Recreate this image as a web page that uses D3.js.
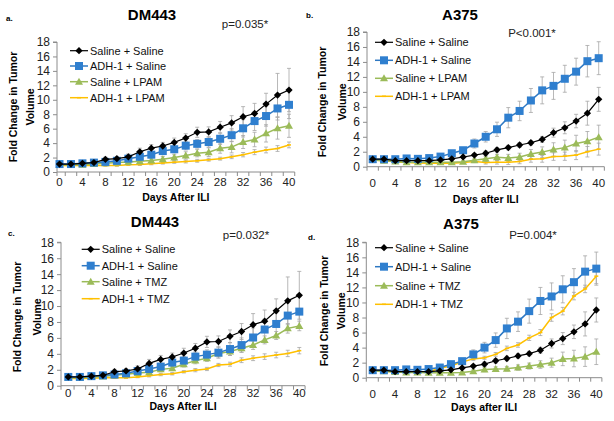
<!DOCTYPE html>
<html><head><meta charset="utf-8">
<script src="https://cdn.jsdelivr.net/npm/d3@7/dist/d3.min.js"></script>
<style>
body{margin:0;background:#fff;}
svg{display:block;font-family:"Liberation Sans",Arial,sans-serif;}
</style></head>
<body><svg id="c" width="614" height="421"></svg>
<script>
// ---------- DATA ----------
const days = [0,2,4,6,8,10,12,14,16,18,20,22,24,26,28,30,32,34,36,38,40];
const yTicks = [0,2,4,6,8,10,12,14,16,18];
const xTickLabels = [0,4,8,12,16,20,24,28,32,36,40];

// DM443
const dmSaline    = [1.1,1.1,1.2,1.3,1.75,1.85,2.1,2.8,3.3,3.6,4.1,4.7,5.5,5.55,6.2,6.8,7.65,8.1,9.4,10.65,11.35];
const dmSalineErr = [0.1,0.1,0.15,0.2,0.3,0.3,0.4,0.5,0.5,0.5,0.6,0.6,0.7,0.7,0.8,1.0,1.4,1.4,1.5,3.0,3.0];
const dmAdh       = [1.1,1.1,1.2,1.3,1.4,1.55,1.85,2.1,2.4,2.9,3.15,3.65,3.9,4.15,4.6,5.1,6.05,7.05,7.75,8.8,9.3];
const dmAdhErr    = [0.1,0.1,0.15,0.15,0.2,0.2,0.3,0.4,0.4,0.5,0.5,0.6,0.6,0.7,0.8,0.9,1.2,1.3,1.4,1.6,1.9];
const dmLpam      = [1.0,1.0,1.0,1.1,1.2,1.3,1.4,1.5,1.6,1.75,2.0,2.3,2.6,2.75,3.3,3.45,4.15,4.5,5.35,6.05,6.4];
const dmLpamErr   = [0.1,0.1,0.1,0.1,0.1,0.1,0.2,0.3,0.3,0.4,0.4,0.5,0.5,0.6,0.7,0.8,0.9,1.0,1.2,1.5,1.6];
const dmAdhLpam   = [0.9,0.9,0.9,0.9,0.9,0.9,1.0,1.05,1.15,1.25,1.35,1.45,1.55,1.7,1.85,2.1,2.4,2.75,3.05,3.25,3.75];
const dmAdhLpamErr= [0.1,0.1,0.1,0.1,0.1,0.1,0.1,0.15,0.15,0.15,0.15,0.2,0.2,0.2,0.2,0.25,0.3,0.35,0.4,0.4,0.4];
const dmTmz       = [1.0,1.0,1.1,1.15,1.3,1.45,1.6,1.7,2.05,2.2,2.7,3.15,3.45,4.05,4.3,4.7,5.1,5.75,6.3,7.2,7.5];
const dmTmzErr    = [0.1,0.1,0.1,0.1,0.15,0.15,0.2,0.25,0.3,0.3,0.35,0.4,0.4,0.45,0.5,0.5,0.55,0.5,0.5,0.6,0.6];
const dmAdhTmz    = [0.9,0.9,0.95,1.0,1.0,1.0,1.1,1.25,1.4,1.5,1.75,1.95,2.1,2.6,2.7,3.2,3.45,3.65,3.85,4.05,4.4];
const dmAdhTmzErr = [0.1,0.1,0.1,0.1,0.1,0.1,0.1,0.15,0.15,0.15,0.15,0.2,0.2,0.2,0.25,0.3,0.3,0.35,0.35,0.4,0.4];

// A375
const aSaline     = [1.0,1.0,0.8,0.8,0.8,0.8,0.9,1.05,1.3,1.55,1.8,2.25,2.55,2.9,3.2,3.65,4.55,5.2,6.1,7.15,9.0];
const aSalineErr  = [0.1,0.1,0.1,0.1,0.1,0.1,0.1,0.15,0.2,0.2,0.3,0.3,0.3,0.3,0.3,0.4,0.6,0.8,0.9,1.6,1.6];
const aAdh        = [1.0,1.0,1.0,1.1,1.05,1.15,1.35,1.8,2.2,3.1,4.0,5.0,6.55,7.45,8.85,10.2,10.8,11.75,12.7,14.1,14.5];
const aAdhErr     = [0.1,0.1,0.1,0.1,0.1,0.1,0.15,0.2,0.3,0.6,0.7,0.95,1.35,1.3,1.6,1.8,1.8,1.8,1.8,2.1,2.2];
const aLpam       = [0.9,0.8,0.7,0.6,0.6,0.6,0.6,0.6,0.65,0.85,1.05,1.25,1.15,1.3,1.7,1.95,2.3,2.55,3.1,3.4,3.95];
const aLpamErr    = [0.1,0.1,0.1,0.1,0.1,0.1,0.1,0.1,0.15,0.2,0.3,0.4,0.5,0.5,0.6,0.7,0.9,1.0,1.1,1.3,1.6];
const aAdhLpam    = [0.9,0.8,0.65,0.55,0.5,0.45,0.45,0.45,0.55,0.7,0.55,0.6,0.6,0.7,1.0,1.05,1.35,1.4,1.55,2.0,2.35];
const aAdhLpamErr = [0.1,0.1,0.1,0.1,0.1,0.1,0.1,0.1,0.1,0.15,0.2,0.25,0.3,0.3,0.4,0.45,0.5,0.55,0.6,0.7,0.8];
const aTmz        = [0.9,0.85,0.75,0.7,0.7,0.65,0.65,0.65,0.7,0.85,1.1,1.15,1.2,1.35,1.55,1.75,2.0,2.5,2.55,2.8,3.45];
const aTmzErr     = [0.1,0.1,0.1,0.1,0.1,0.1,0.1,0.1,0.15,0.2,0.3,0.3,0.3,0.35,0.4,0.5,0.6,0.9,1.1,1.3,1.7];
const aAdhTmz     = [0.95,0.85,0.75,0.75,0.7,0.8,1.25,1.55,2.1,2.5,2.65,3.1,3.9,4.35,5.3,6.0,8.0,8.85,10.85,11.8,13.5];
const aAdhTmzErr  = [0.1,0.1,0.1,0.1,0.1,0.1,0.15,0.15,0.2,0.2,0.2,0.25,0.3,0.3,0.35,0.4,0.5,0.5,0.5,0.5,1.0];

const seriesNamesLpam = ["Saline + Saline","ADH-1 + Saline","Saline + LPAM","ADH-1 + LPAM"];
const seriesNamesTmz  = ["Saline + Saline","ADH-1 + Saline","Saline + TMZ","ADH-1 + TMZ"];
const panelTitles = ["DM443","A375","DM443","A375"];
const panelTags = ["a.","b.","c.","d."];
const pValues = ["p=0.035*","P<0.001*","p=0.032*","P=0.004*"];
const xTitles = ["Days After ILI","Days after ILI","Days After ILI","Days after ILI"];
const yTitleLines = ["Fold Change in Tumor","Volume"];

// ---------- STYLES / LAYOUT ----------
const styles = [
  {color:"#000000", marker:"diamond", mfill:"#000000", lw:1.2},
  {color:"#2e78c2", marker:"square",  mfill:"#2f7fcf", lw:1.5},
  {color:"#9bbb59", marker:"triangle",mfill:"#9bbb59", lw:1.5},
  {color:"#ffc000", marker:"dash",    mfill:"#ffc000", lw:1.5}
];
const panels = [
  {series:[dmSaline,dmAdh,dmLpam,dmAdhLpam], errs:[dmSalineErr,dmAdhErr,dmLpamErr,dmAdhLpamErr], names:seriesNamesLpam,
   ax:57, x0:59.5, x40:289, yb:172, yt:42, xlabY:182, xtitleY:197, titleX:152, titleY:15, tagX:6, tagY:18,
   pX:245, pY:24, legX:70, legY:[50.7,66,81.7,97.7], ytX:[13,30], ytY:107},
  {series:[aSaline,aAdh,aLpam,aAdhLpam], errs:[aSalineErr,aAdhErr,aLpamErr,aAdhLpamErr], names:seriesNamesLpam,
   ax:367, x0:372.7, x40:598.7, yb:166.7, yt:32, xlabY:183, xtitleY:199, titleX:460, titleY:15, tagX:306, tagY:15,
   pX:532, pY:33, legX:375, legY:[42.3,60.3,78.3,96.3], ytX:[322,342], ytY:102},
  {series:[dmSaline,dmAdh,dmTmz,dmAdhTmz], errs:[dmSalineErr,dmAdhErr,dmTmzErr,dmAdhTmzErr], names:seriesNamesTmz,
   ax:61, x0:68.3, x40:299.3, yb:385.7, yt:242.3, xlabY:393, xtitleY:406, titleX:155, titleY:221.7, tagX:8, tagY:233,
   pX:246, pY:235, legX:81.7, legY:[249.3,265.7,281.7,298.7], ytX:[17,37], ytY:317},
  {series:[aSaline,aAdh,aTmz,aAdhTmz], errs:[aSalineErr,aAdhErr,aTmzErr,aAdhTmzErr], names:seriesNamesTmz,
   ax:366.3, x0:372.7, x40:596.3, yb:377.7, yt:242.3, xlabY:393.5, xtitleY:407, titleX:461, titleY:224, tagX:308, tagY:237,
   pX:533, pY:235, legX:375, legY:[247.7,266.7,285.7,304.3], ytX:[324,341], ytY:311}
];

const svg = d3.select("#c");
const axisColor = "#8c8c8c";

function drawMarker(g, type, x, y, st){
  if(type==="diamond"){
    g.append("path").attr("d",d3.symbol(d3.symbolDiamond2 || d3.symbolDiamond,34)()).attr("transform",`translate(${x},${y})`)
     .attr("fill",st.mfill);
  } else if(type==="square"){
    g.append("rect").attr("x",x-4).attr("y",y-4).attr("width",8).attr("height",8).attr("fill",st.mfill);
  } else if(type==="triangle"){
    g.append("path").attr("d",`M${x},${y-4}L${x+4},${y+3}L${x-4},${y+3}Z`).attr("fill",st.mfill);
  } else {
    g.append("line").attr("x1",x-2).attr("x2",x+2).attr("y1",y).attr("y2",y).attr("stroke",st.mfill).attr("stroke-width",1.5);
  }
}

panels.forEach((p,pi)=>{
  const g = svg.append("g");
  const x = d3.scaleLinear().domain([0,40]).range([p.x0,p.x40]);
  const y = d3.scaleLinear().domain([0,18]).range([p.yb,p.yt]);
  const step = x(2)-x(0);
  const xEnd = x(40) + step/2;

  // y axis
  const yAxis = d3.axisLeft(y).tickValues(yTicks).tickSize(4).tickPadding(3).tickFormat(d3.format("d"));
  const ya = g.append("g").attr("transform",`translate(${p.ax},0)`).call(yAxis);
  ya.select(".domain").attr("stroke",axisColor).attr("d",`M-4,${y(18)}H0V${y(0)}`);
  ya.selectAll(".tick line").attr("stroke",axisColor);
  ya.selectAll(".tick text").attr("fill","#222").style("font-size","12px").style("font-family","Liberation Sans, Arial");

  // x axis line + ticks
  g.append("line").attr("x1",p.ax).attr("x2",xEnd).attr("y1",y(0)).attr("y2",y(0)).attr("stroke",axisColor);
  days.forEach(d=>{
    const tx = (d===0) ? p.ax : x(d)-step/2;
    g.append("line").attr("x1",tx).attr("x2",tx).attr("y1",y(0)).attr("y2",y(0)+4).attr("stroke",axisColor);
  });
  g.append("line").attr("x1",xEnd).attr("x2",xEnd).attr("y1",y(0)).attr("y2",y(0)+4).attr("stroke",axisColor);
  g.selectAll(".xl").data(xTickLabels).enter().append("text")
    .attr("x",d=>x(d)).attr("y",p.xlabY).attr("dy","0.35em").attr("text-anchor","middle")
    .style("font-size","11.5px").attr("fill","#222").text(d=>d);

  // titles
  g.append("text").attr("x",p.titleX).attr("y",p.titleY).attr("dy","0.35em").attr("text-anchor","middle")
    .style("font-size","15px").style("font-weight","bold").text(panelTitles[pi]);
  g.append("text").attr("x",p.tagX).attr("y",p.tagY).attr("dy","0.35em")
    .style("font-size","8px").style("font-weight","bold").text(panelTags[pi]);
  g.append("text").attr("x",p.pX).attr("y",p.pY).attr("dy","0.35em").attr("text-anchor","middle")
    .style("font-size","11.5px").attr("fill","#222").text(pValues[pi]);
  g.append("text").attr("x",(p.ax+xEnd)/2).attr("y",p.xtitleY).attr("dy","0.35em").attr("text-anchor","middle")
    .style("font-size","10.5px").style("font-weight","bold").text(xTitles[pi]);
  yTitleLines.forEach((t,i)=>{
    g.append("text").attr("transform",`translate(${p.ytX[i]},${p.ytY}) rotate(-90)`).attr("dy","0.35em")
      .attr("text-anchor","middle").style("font-size","10.5px").style("font-weight","bold").text(t);
  });

  // error bars
  p.series.forEach((vals,si)=>{
    const errs = p.errs[si];
    vals.forEach((v,i)=>{
      const cx = x(days[i]);
      const e = errs[i];
      g.append("line").attr("x1",cx).attr("x2",cx).attr("y1",y(v-e)).attr("y2",y(v+e)).attr("stroke","#a6a6a6").attr("stroke-width",0.8);
      [v-e,v+e].forEach(w=>g.append("line").attr("x1",cx-2).attr("x2",cx+2).attr("y1",y(w)).attr("y2",y(w)).attr("stroke","#a6a6a6").attr("stroke-width",0.8));
    });
  });
  // lines and markers
  const order=[3,2,1,0];
  order.forEach(si=>{
    const st = styles[si];
    const vals = p.series[si];
    const line = d3.line().x((d,i)=>x(days[i])).y(d=>y(d));
    g.append("path").datum(vals).attr("d",line).attr("fill","none").attr("stroke",st.color).attr("stroke-width",st.lw);
    vals.forEach((v,i)=>drawMarker(g,st.marker,x(days[i]),y(v),st));
  });

  // legend
  p.names.forEach((n,i)=>{
    const st = styles[i];
    const ly = p.legY[i];
    g.append("line").attr("x1",p.legX).attr("x2",p.legX+18).attr("y1",ly).attr("y2",ly).attr("stroke",st.color).attr("stroke-width",st.lw);
    drawMarker(g,st.marker,p.legX+9,ly,st);
    g.append("text").attr("x",p.legX+20).attr("y",ly).attr("dy","0.35em").style("font-size","11px").attr("fill","#111").text(n);
  });
});
</script></body></html>
